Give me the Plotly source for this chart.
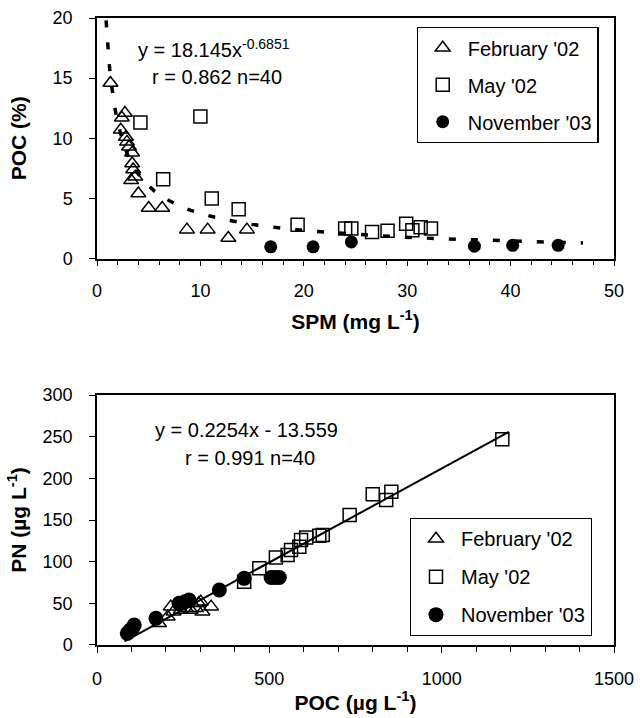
import plotly.graph_objects as go

# ---------------- Top panel data: SPM (mg/L) vs POC (%) ----------------
feb_spm = [1.3, 2.7, 2.4, 2.3, 2.8, 2.9, 3.1, 3.4, 3.4, 3.5, 3.7, 3.3, 4.0, 5.0, 6.3, 8.7, 10.7, 12.7, 14.5]
feb_pocpct = [14.6, 12.1, 11.7, 10.7, 10.1, 9.7, 9.3, 8.8, 7.9, 7.4, 6.8, 6.5, 5.4, 4.2, 4.2, 2.4, 2.4, 1.7, 2.4]
may_spm = [4.2, 10.0, 6.4, 11.1, 13.7, 19.4, 24.0, 24.6, 26.6, 28.1, 29.9, 30.5, 31.3, 32.3]
may_pocpct = [11.3, 11.8, 6.6, 5.0, 4.1, 2.8, 2.5, 2.5, 2.2, 2.3, 2.9, 2.35, 2.6, 2.5]
nov_spm = [16.8, 20.9, 24.6, 36.5, 40.2, 44.6]
nov_pocpct = [0.97, 0.97, 1.38, 1.03, 1.1, 1.1]

# power fit y = a * x^b (as printed on the chart)
pow_a = 18.145
pow_b = -0.6851
fit_x_top = [0.88, 0.95, 1.0, 1.1, 1.2, 1.35, 1.5, 1.7, 2.0, 2.3, 2.6, 3.0, 3.5, 4.0, 4.7, 5.5, 6.5, 7.7, 9.0,
             10.5, 12.5, 15, 18, 21, 25, 29, 33, 37, 41, 44, 47]

# ---------------- Bottom panel data: POC (ug/L) vs PN (ug/L) ----------------
feb_poc = [180, 205, 214, 222, 243, 258, 272, 287, 295, 301, 306, 331]
feb_pn = [26, 34, 46, 40, 42, 44, 42, 44, 50, 52, 40, 46]
may_poc = [427, 471, 519, 553, 563, 587, 592, 607, 645, 655, 733, 800, 839, 854, 1176]
may_pn = [76, 92, 105, 108, 114, 118, 126, 129, 131, 132, 156, 181, 174, 184, 247]
nov_poc = [88, 96, 103, 108, 171, 238, 255, 267, 355, 427, 505, 517, 529]
nov_pn = [14, 18, 20, 24, 32, 50, 52, 54, 66, 80, 81, 81, 81]

lin_slope = 0.2254
lin_icpt = -13.559
fit_x_bot = [80, 1195]

FONT = "Liberation Sans, Arial, sans-serif"
BLACK = "black"

fig = go.Figure()

tri = dict(symbol="triangle-up-open", size=13, color=BLACK, line=dict(color=BLACK, width=1.5))
sq = dict(symbol="square-open", size=13, color=BLACK, line=dict(color=BLACK, width=1.5))
dot = dict(symbol="circle", size=13, color=BLACK, line=dict(color=BLACK, width=0))
dot_big = dict(symbol="circle", size=15, color=BLACK, line=dict(color=BLACK, width=0))

# top panel
fig.add_trace(go.Scatter(x=fit_x_top, y=[pow_a * x ** pow_b for x in fit_x_top], mode="lines",
                         line=dict(color=BLACK, width=3.5, dash="7px,15px"), showlegend=False,
                         xaxis="x", yaxis="y", hoverinfo="skip"))
fig.add_trace(go.Scatter(x=feb_spm, y=feb_pocpct, mode="markers", marker=tri, name="February '02",
                         legend="legend", legendgroup="a", xaxis="x", yaxis="y"))
fig.add_trace(go.Scatter(x=may_spm, y=may_pocpct, mode="markers", marker=sq, name="May '02",
                         legend="legend", legendgroup="b", xaxis="x", yaxis="y"))
fig.add_trace(go.Scatter(x=nov_spm, y=nov_pocpct, mode="markers", marker=dot, name="November '03",
                         legend="legend", legendgroup="c", xaxis="x", yaxis="y"))

# bottom panel
fig.add_trace(go.Scatter(x=fit_x_bot, y=[lin_slope * x + lin_icpt for x in fit_x_bot], mode="lines",
                         line=dict(color=BLACK, width=2), showlegend=False,
                         xaxis="x2", yaxis="y2", hoverinfo="skip"))
fig.add_trace(go.Scatter(x=feb_poc, y=feb_pn, mode="markers", marker=tri, name="February '02",
                         legend="legend2", legendgroup="d", xaxis="x2", yaxis="y2"))
fig.add_trace(go.Scatter(x=may_poc, y=may_pn, mode="markers", marker=sq, name="May '02",
                         legend="legend2", legendgroup="e", xaxis="x2", yaxis="y2"))
fig.add_trace(go.Scatter(x=nov_poc, y=nov_pn, mode="markers", marker=dot_big, name="November '03",
                         legend="legend2", legendgroup="f", xaxis="x2", yaxis="y2"))

axis_common = dict(showline=True, linecolor=BLACK, linewidth=1.5, mirror=True, showgrid=False,
                   zeroline=False, ticks="outside", ticklen=6, tickwidth=1.2, tickcolor=BLACK,
                   automargin=False,
                   tickfont=dict(family=FONT, size=18, color=BLACK))

top_dom = [0.6164, 1.0]
bot_dom = [0.0, 0.3987]
title_font = dict(family=FONT, size=21, color=BLACK)
leg_font = dict(family=FONT, size=20, color=BLACK)
ann_font = dict(family=FONT, size=20, color=BLACK)

fig.update_layout(
    template="none",
    width=640, height=718,
    margin=dict(l=97, r=26, t=18, b=73),
    plot_bgcolor="white", paper_bgcolor="white",
    font=dict(family=FONT, color=BLACK),
    xaxis=dict(axis_common, domain=[0, 1], anchor="y", range=[0, 50], dtick=10, ticklabelstandoff=9,
               minor=dict(dtick=2, ticks="outside", ticklen=5, tickcolor=BLACK, tickwidth=1.2),
               title=dict(text="<b>SPM (mg L<sup>-1</sup>)</b>", font=title_font, standoff=14)),
    yaxis=dict(axis_common, domain=top_dom, anchor="x", range=[0, 20], dtick=5, ticklabelstandoff=13,
               title=dict(text="<b>POC (%)</b>", font=title_font, standoff=20)),
    xaxis2=dict(axis_common, domain=[0, 1], anchor="y2", range=[0, 1500], dtick=500, ticklabelstandoff=11,
                minor=dict(dtick=100, ticks="outside", ticklen=5, tickcolor=BLACK, tickwidth=1.2),
                title=dict(text="<b>POC (\u00b5g L<sup>-1</sup>)</b>", font=title_font, standoff=7)),
    yaxis2=dict(axis_common, domain=bot_dom, anchor="x2", range=[0, 300], dtick=50, ticklabelstandoff=13,
                title=dict(text="<b>PN (\u00b5g L<sup>-1</sup>)</b>", font=title_font, standoff=10)),
    legend=dict(x=0.618, y=0.9856, xanchor="left", yanchor="top", bgcolor="white",
                bordercolor=BLACK, borderwidth=1.2, font=leg_font,
                tracegroupgap=8, itemwidth=40, entrywidth=188),
    legend2=dict(x=0.605, y=0.2026, xanchor="left", yanchor="top", bgcolor="white",
                 bordercolor=BLACK, borderwidth=1.2, font=leg_font,
                 tracegroupgap=9, itemwidth=40, entrywidth=193),
    annotations=[
        dict(text="y = 18.145x<sup>-0.6851</sup>", x=0.226, y=0.952, xref="paper", yref="paper",
             xanchor="center", yanchor="middle", showarrow=False, font=ann_font),
        dict(text="r = 0.862 n=40", x=0.232, y=0.906, xref="paper", yref="paper",
             xanchor="center", yanchor="middle", showarrow=False, font=ann_font),
        dict(text="y = 0.2254x - 13.559", x=0.29, y=0.343, xref="paper", yref="paper",
             xanchor="center", yanchor="middle", showarrow=False, font=ann_font),
        dict(text="r = 0.991 n=40", x=0.296, y=0.298, xref="paper", yref="paper",
             xanchor="center", yanchor="middle", showarrow=False, font=ann_font),
    ],
)

fig.write_html("out.html", config={"displayModeBar": False},
               post_script="document.body.style.margin='0';document.body.style.overflow='hidden';")
